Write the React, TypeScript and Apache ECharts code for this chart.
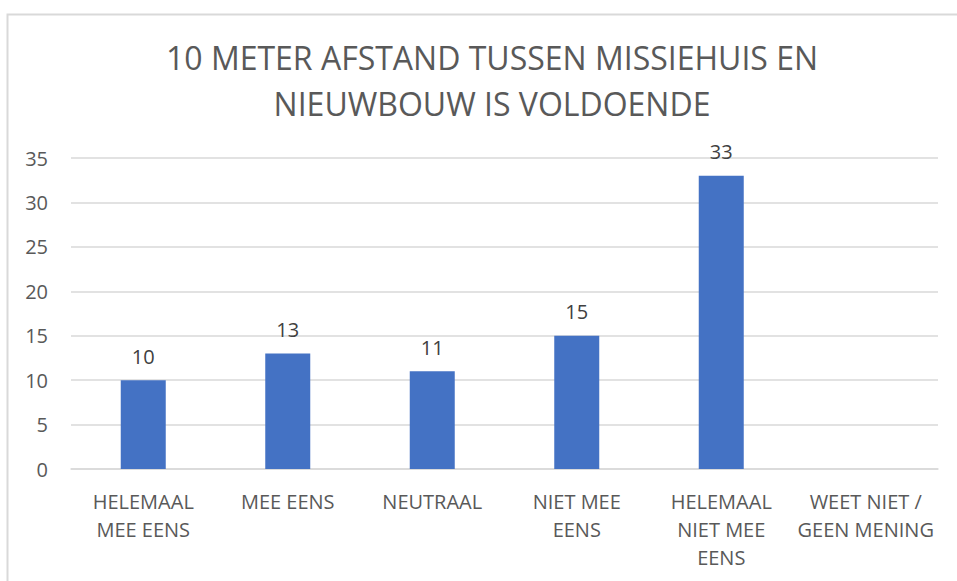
import React, { useEffect, useRef } from "react";
import * as echarts from "echarts";

const titleLines = ["10 METER AFSTAND TUSSEN MISSIEHUIS EN", "NIEUWBOUW IS VOLDOENDE"];
const categories = [
  "HELEMAAL\nMEE EENS",
  "MEE EENS",
  "NEUTRAAL",
  "NIET MEE\nEENS",
  "HELEMAAL\nNIET MEE\nEENS",
  "WEET NIET /\nGEEN MENING",
];
const values: (number | null)[] = [10, 13, 11, 15, 33, null];
const yTicks = { min: 0, max: 35, interval: 5 };

export default function App() {
  const ref = useRef<HTMLDivElement>(null);
  useEffect(() => {
    document.body.style.margin = "0";
    const chart = echarts.init(ref.current!, null, { renderer: "svg" });
    const font = "'Open Sans', 'Liberation Sans', sans-serif";
    chart.setOption({
      animation: false,
      backgroundColor: "#ffffff",
      title: {
        text: titleLines.join("\n"),
        left: 487,
        top: 29,
        textAlign: "center",
        textStyle: {
          color: "#595959",
          fontSize: 32,
          fontWeight: "normal",
          fontFamily: font,
          lineHeight: 46,
        },
      },
      graphic: [
        {
          type: "rect",
          shape: { x: 7.5, y: 14.5, width: 970, height: 600 },
          style: { fill: "none", stroke: "#d9d9d9", lineWidth: 2 },
          silent: true,
        },
      ],
      grid: { left: 71, right: 19, top: 158, bottom: 112, containLabel: false },
      xAxis: {
        type: "category",
        data: categories,
        axisLine: { lineStyle: { color: "#d9d9d9", width: 1.5 } },
        axisTick: { show: false },
        axisLabel: {
          color: "#595959",
          fontSize: 20,
          fontFamily: font,
          lineHeight: 28,
          margin: 18,
          interval: 0,
        },
      },
      yAxis: {
        type: "value",
        min: yTicks.min,
        max: yTicks.max,
        interval: yTicks.interval,
        axisLine: { show: false },
        axisTick: { show: false },
        axisLabel: { color: "#595959", fontSize: 20, fontFamily: font, margin: 23 },
        splitLine: { lineStyle: { color: "#d9d9d9", width: 1.5 } },
      },
      series: [
        {
          type: "bar",
          data: values,
          barWidth: 45,
          itemStyle: { color: "#4472c4" },
          label: {
            show: true,
            position: "top",
            distance: 14,
            color: "#404040",
            fontSize: 20,
            fontFamily: font,
          },
        },
      ],
    });
    return () => chart.dispose();
  }, []);
  return <div ref={ref} style={{ width: 957, height: 581 }} />;
}
